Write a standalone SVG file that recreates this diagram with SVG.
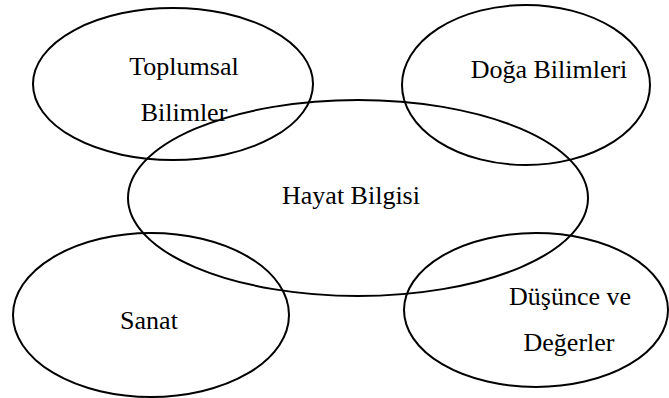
<svg xmlns="http://www.w3.org/2000/svg" width="669" height="398" viewBox="0 0 669 398">
<style>
.n{fill:none;stroke:#000;stroke-width:2}
.t{font-family:"Liberation Serif","Times New Roman",serif;font-size:26px;fill:#000;text-anchor:middle}
</style>
<rect width="669" height="398" fill="#fff"/>
<g id="toplumsal"><ellipse class="n" cx="173" cy="84" rx="140" ry="76"/><text class="t" x="184" y="75">Toplumsal</text><text class="t" x="184" y="121">Bilimler</text></g>
<g id="doga"><ellipse class="n" cx="526" cy="85" rx="124" ry="80"/><text class="t" x="549" y="78">Doğa Bilimleri</text></g>
<g id="hayat"><ellipse class="n" cx="358" cy="198" rx="230" ry="98"/><text class="t" x="351" y="204">Hayat Bilgisi</text></g>
<g id="sanat"><ellipse class="n" cx="151" cy="315" rx="138" ry="82"/><text class="t" x="149" y="329">Sanat</text></g>
<g id="dusunce"><ellipse class="n" cx="536" cy="310" rx="132" ry="77"/><text class="t" x="570" y="305">Düşünce ve</text><text class="t" x="569" y="351">Değerler</text></g>
<g id="connectors"/>
</svg>
